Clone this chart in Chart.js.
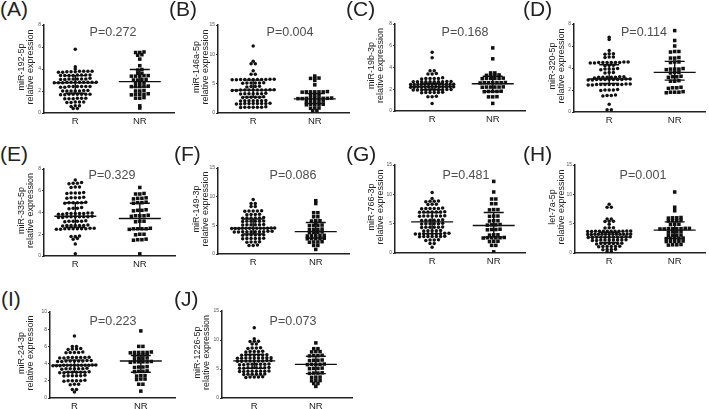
<!DOCTYPE html>
<html>
<head>
<meta charset="utf-8">
<script src="https://cdn.jsdelivr.net/npm/chart.js@4"></script>
<style>
body { margin: 0; background: #fff; }
#wrap { position: relative; width: 709px; height: 409px; overflow: hidden; background: #fff; font-family: "Liberation Sans", Arial, sans-serif; }
.lbl { position: absolute; font-size: 21px; line-height: 1; color: #222; }
canvas { position: absolute; }
</style>
</head>
<body>
<div id="wrap"></div>
<script>
// Gruplar ve panel metinleri
const groups = ['R', 'NR'];
const letters = ['(A)', '(B)', '(C)', '(D)', '(E)', '(F)', '(G)', '(H)', '(I)', '(J)'];
const mirs = ['miR-192-5p', 'miR-146a-5p', 'miR-19b-3p', 'miR-320-5p', 'miR-335-5p',
              'miR-149-3p', 'miR-766-3p', 'let-7a-5p', 'miR-24-3p', 'miR-1226-5p'];
const exprLabels = ['relative expression', 'relative expression', 'relative expression', 'relative expression',
                    'relative expression', 'relative expression', 'relative expression', 'relative expression',
                    'relative expressoin', 'relative expression'];
const pValues = ['P=0.272', 'P=0.004', 'P=0.168', 'P=0.114', 'P=0.329',
                 'P=0.086', 'P=0.481', 'P=0.001', 'P=0.223', 'P=0.073'];
const yMax = [8, 15, 8, 8, 8, 15, 15, 15, 10, 15];
const yStep = [2, 5, 2, 2, 2, 5, 5, 5, 2, 5];

// Medyan ve çeyrekler (R / NR)
const medR  = [2.75, 3.9, 2.25, 3.0, 3.65, 4.5, 5.3, 2.7, 3.8, 6.4];
const q1R   = [1.8, 2.7, 1.95, 2.6, 2.65, 3.5, 3.3, 1.8, 3.0, 5.1];
const q3R   = [3.4, 5.6, 2.55, 4.3, 4.9, 6.1, 6.9, 3.5, 4.4, 7.5];
const medNR = [2.85, 2.4, 2.5, 3.6, 3.45, 3.9, 4.7, 3.9, 4.3, 5.8];
const q1NR  = [2.35, 1.6, 1.8, 2.9, 2.45, 2.8, 2.7, 2.5, 3.0, 4.2];
const q3NR  = [3.95, 3.3, 3.2, 4.6, 4.85, 5.5, 6.9, 5.3, 4.95, 7.2];

// Tek tek noktalar
const rA = [5.8, 4.2, 4.0,
  3.8, 3.75, 3.8, 3.7, 3.75, 3.8, 3.7, 3.75, 3.8,
  3.45, 3.4, 3.45, 3.4, 3.4, 3.45, 3.4, 3.45,
  3.1, 3.05, 3.1, 3.15, 3.1, 3.1, 3.05, 3.1,
  2.8, 2.8, 2.75, 2.8, 2.8, 2.75, 2.8, 2.8, 2.8, 2.75, 2.8,
  2.4, 2.4, 2.35, 2.4, 2.4, 2.4, 2.35, 2.4,
  2.0, 2.05, 2.0, 2.0, 2.0, 2.0, 2.05,
  1.7, 1.65, 1.7, 1.7, 1.7, 1.7, 1.65, 1.7,
  1.35, 1.3, 1.35, 1.3, 1.35, 1.3,
  1.0, 0.95, 1.0, 1.0, 0.95,
  0.65, 0.6, 0.65, 0.4, 0.4];
const nrA = [5.55, 5.5, 5.5, 5.3, 5.25, 4.9, 4.3, 3.95, 3.9, 3.6, 3.6,
  3.35, 3.4, 3.35, 3.4, 3.35, 3.05, 3.0, 3.05, 3.0, 2.7, 2.7, 2.75,
  2.4, 2.45, 2.4, 2.4, 2.45, 2.05, 2.0, 2.0, 1.7, 1.7, 1.75, 1.7, 1.65,
  1.35, 1.4, 1.35, 0.65, 0.45];

const rB = [11.4, 8.8, 8.4, 8.4, 7.2, 6.6, 6.6,
  5.7, 5.75, 5.7, 5.65, 5.7, 5.7, 5.75, 5.7, 5.65, 5.7, 5.7,
  5.1, 5.1, 5.15, 5.05, 5.1, 5.1,
  4.5, 4.45, 4.5, 4.55,
  3.9, 3.9, 3.95, 3.85, 3.9, 3.9, 3.95, 3.9, 3.85, 3.9, 3.9,
  3.3, 3.3, 3.35, 3.25, 3.3, 3.3, 3.3,
  2.7, 2.75, 2.7, 2.65, 2.7, 2.7,
  2.1, 2.1, 2.15, 2.05, 2.1, 2.1, 2.1,
  1.6, 1.6, 1.55, 1.6, 1.65, 1.6, 1.6, 1.6, 1.55,
  1.0, 1.0, 0.95, 1.0, 1.05, 1.0, 1.0];
const nrB = [6.3, 5.95, 5.9, 5.95, 5.55, 4.8,
  3.6, 3.6, 3.55, 3.65, 3.6, 3.6, 3.6, 3.0, 3.0, 3.05,
  2.5, 2.5, 2.45, 2.55, 2.5, 2.5, 2.5, 2.45, 2.5,
  2.0, 2.0, 1.95, 2.05, 2.0, 1.45, 1.45, 1.4, 1.5, 1.45,
  0.85, 0.85, 0.8, 0.4, 0.4];

const rC = [5.4, 4.9, 3.7, 3.7, 3.4, 3.4, 3.45,
  3.0, 3.0, 3.05, 3.0, 2.95, 3.0,
  2.7, 2.7, 2.72, 2.7, 2.68, 2.7, 2.7, 2.72, 2.7, 2.68,
  2.45, 2.45, 2.47, 2.45, 2.43, 2.45, 2.45, 2.47, 2.45, 2.43, 2.45, 2.45, 2.47,
  2.2, 2.2, 2.22, 2.2, 2.18, 2.2, 2.2, 2.22, 2.2, 2.18, 2.2, 2.2, 2.22,
  1.95, 1.95, 1.97, 1.95, 1.93, 1.95, 1.95, 1.97, 1.95, 1.93,
  1.7, 1.7, 1.72, 1.68, 1.7, 1.7,
  1.3, 1.3, 1.35, 0.7];
const nrC = [5.8, 4.8, 3.5, 3.5, 3.3, 3.3, 3.28, 3.32,
  3.0, 3.0, 2.98, 3.02, 3.0, 3.0, 2.6, 2.6, 2.62, 2.58, 2.6, 2.6, 2.6,
  2.2, 2.2, 2.22, 2.18, 2.2, 2.2, 1.8, 1.8, 1.82, 1.78, 1.8,
  1.3, 1.3, 1.32, 0.7];

const rD = [6.8, 6.6, 5.6, 5.3, 5.3, 5.25, 5.0, 5.0, 4.95,
  4.5, 4.5, 4.55, 4.45, 4.5, 4.5, 4.5, 4.55, 4.45, 4.5,
  4.25, 4.25, 4.2, 3.9, 3.9, 3.85, 3.9, 3.95, 3.6, 3.6, 3.55,
  3.15, 3.15, 3.2, 3.1, 3.15, 3.15, 3.15, 3.2,
  2.95, 2.95, 2.9, 2.95, 3.0, 2.95, 2.95, 2.9, 2.95, 3.0, 2.95,
  2.5, 2.5, 2.45, 2.55, 2.5, 2.5, 2.5, 2.45, 2.5, 2.55, 2.5,
  2.0, 2.0, 1.95, 2.05, 2.0, 1.5, 1.5, 1.45, 1.55, 0.7, 0.2, 0.2];
const nrD = [7.4, 6.5, 6.0, 5.5, 5.5, 5.45, 4.9, 4.9, 4.95, 4.55, 4.55, 4.5,
  3.9, 3.9, 3.85, 3.95, 3.9, 3.6, 3.6, 3.55, 3.2, 3.2, 3.15, 3.25,
  2.8, 2.8, 2.85, 2.2, 2.2, 2.15, 2.25, 1.8, 1.8, 1.75, 1.85, 1.8];

const rE = [7.0, 6.7, 6.7, 6.65, 6.75, 6.35, 6.35, 6.3,
  5.8, 5.8, 5.85, 5.75, 5.8, 5.35, 5.35, 5.3, 5.4, 5.35,
  4.9, 4.9, 4.85, 4.95, 4.9, 4.9, 4.4, 4.4, 4.45, 4.35,
  3.9, 3.9, 3.95, 3.85, 3.9, 3.9, 3.9, 3.95, 3.85,
  3.6, 3.6, 3.55, 3.6, 3.65, 3.6, 3.6, 3.55, 3.6,
  3.2, 3.2, 3.15, 3.25, 3.2, 3.2,
  2.8, 2.8, 2.85, 2.75, 2.8, 2.8, 2.8,
  2.5, 2.5, 2.45, 2.55, 2.5, 2.5, 2.5, 2.45, 2.5, 2.55,
  1.8, 1.8, 1.85, 1.6, 1.55, 1.1, 0.2];
const nrE = [6.3, 5.7, 5.7, 5.75, 5.3, 5.3, 5.25, 5.35, 4.9, 4.9, 4.85, 4.95,
  4.2, 4.2, 4.25, 4.15, 3.7, 3.7, 3.65, 3.75, 3.7, 3.2, 3.2, 3.15,
  2.5, 2.5, 2.45, 2.55, 2.5, 2.5, 2.0, 2.0, 1.95, 1.5, 1.5, 1.45, 1.55, 0.2];

const rF = [9.5, 8.8, 8.8, 8.3, 8.3, 7.5, 7.5, 7.45, 7.55, 7.5,
  6.9, 6.9, 6.85, 6.95, 6.3, 6.3, 6.25, 6.35, 6.3, 6.3,
  5.7, 5.7, 5.65, 5.75, 5.7, 5.7, 5.1, 5.1, 5.05, 5.15, 5.1, 5.1,
  4.5, 4.5, 4.45, 4.55, 4.5, 4.5, 4.5, 4.45, 4.55, 4.5, 4.5, 4.5, 4.45,
  3.9, 3.9, 3.85, 3.95, 3.9, 3.9, 3.9, 3.85, 3.95, 3.9,
  3.3, 3.3, 3.25, 3.35, 3.3, 3.3, 2.7, 2.7, 2.65, 2.75, 2.7, 2.7,
  2.1, 2.1, 2.05, 2.15, 1.5, 1.5, 1.55];
const nrF = [9.3, 8.8, 7.2, 7.2, 6.5, 6.5, 5.8, 5.8, 5.75, 5.4,
  5.0, 5.0, 4.95, 5.05, 4.3, 4.3, 4.25, 4.35, 3.8, 3.8, 3.75, 3.85,
  3.2, 3.2, 3.15, 3.25, 3.2, 2.7, 2.7, 2.65, 2.75, 2.7,
  2.1, 2.1, 2.05, 2.15, 1.5, 1.5, 0.8];

const rG = [10.3, 9.3, 8.8, 8.8, 8.75, 8.85, 8.3, 8.3, 8.25,
  7.6, 7.6, 7.55, 7.65, 7.6, 7.6, 7.0, 7.0, 6.95, 7.05, 7.0, 7.0, 7.0,
  6.3, 6.3, 6.25, 6.35, 6.3, 6.3, 6.3, 5.6, 5.6, 5.55, 5.65, 5.6, 5.6,
  5.0, 5.0, 4.95, 5.05, 5.0, 5.0, 4.4, 4.4, 4.35, 4.45, 4.4, 4.4,
  3.8, 3.8, 3.75, 3.85, 3.8, 3.3, 3.3, 3.25, 3.35, 3.3, 3.3, 3.3, 3.25, 3.35,
  2.8, 2.8, 2.75, 2.85, 2.8, 2.8, 2.8, 2.2, 2.2, 2.15, 2.25, 1.6, 1.6, 1.0];
const nrG = [12.2, 10.4, 9.2, 9.2, 8.4, 8.4, 7.4, 7.4, 7.35, 6.3, 6.3, 6.25,
  5.5, 5.5, 5.45, 4.8, 4.8, 4.75, 4.85, 4.0, 4.0, 3.95, 4.05,
  3.1, 3.1, 3.05, 2.6, 2.6, 2.55, 2.65, 2.6, 2.6, 2.0, 2.0, 1.95, 1.3, 1.3, 0.2];

const rH = [8.3, 7.8, 7.8, 5.8, 5.8, 5.4, 5.4, 5.35, 4.9, 4.3, 4.3, 4.25,
  3.7, 3.7, 3.65, 3.75, 3.7, 3.7, 3.7, 3.65, 3.75, 3.7, 3.7, 3.7,
  3.2, 3.2, 3.15, 3.25, 3.2, 3.2, 3.2, 3.15, 3.25, 3.2, 3.2, 3.2, 3.2,
  2.7, 2.7, 2.65, 2.75, 2.7, 2.7, 2.7, 2.65, 2.75, 2.7, 2.7,
  2.2, 2.2, 2.15, 2.25, 2.2, 2.2, 2.2, 2.15, 2.2,
  1.6, 1.6, 1.55, 1.65, 1.6, 1.6, 1.6,
  1.1, 1.1, 1.05, 1.15, 1.1, 1.1, 0.6, 0.6, 0.55, 0.65, 0.2, 0.2];
const nrH = [10.4, 7.8, 7.2, 6.0, 6.0, 5.95, 6.05, 5.5, 5.5, 5.45, 5.55, 4.9, 4.9, 4.85,
  4.15, 4.15, 4.1, 4.2, 4.15, 4.15, 4.1, 4.2, 3.6, 3.6, 3.55, 3.65,
  3.0, 3.0, 2.95, 3.05, 2.5, 2.5, 2.45, 2.55, 2.5,
  2.0, 2.0, 1.95, 2.05, 2.0, 1.4, 1.4, 1.35, 1.45];

const rI = [7.2, 6.0, 6.0, 5.7, 5.7, 5.65, 5.75, 5.3, 5.3, 5.25, 5.35, 5.3,
  4.7, 4.7, 4.65, 4.75, 4.7, 4.7, 4.7, 4.65,
  4.3, 4.3, 4.25, 4.35, 4.3, 4.3, 4.3, 4.25, 4.35,
  3.8, 3.8, 3.75, 3.85, 3.8, 3.8, 3.8, 3.75, 3.85, 3.8, 3.8, 3.8, 3.75,
  3.4, 3.4, 3.35, 3.45, 3.4, 3.4, 3.4,
  3.0, 3.0, 2.95, 3.05, 3.0, 3.0, 3.0, 2.95,
  2.6, 2.6, 2.55, 2.65, 2.6, 2.6, 2.0, 2.0, 1.95, 2.05, 2.0, 2.0,
  1.6, 1.6, 1.55, 1.0, 1.0, 0.7];
const nrI = [7.8, 6.0, 6.0, 5.3, 5.3, 5.25, 5.35, 5.3, 5.3, 5.0, 5.0, 4.95, 5.05,
  4.6, 4.6, 4.55, 4.65, 4.2, 4.2, 4.15, 4.25, 4.2, 4.2,
  3.6, 3.6, 3.55, 3.65, 3.1, 3.1, 3.05, 3.15, 2.6, 2.6, 2.55,
  2.2, 2.2, 2.15, 1.6, 1.6, 0.8];

const rJ = [12.1, 10.2, 9.8, 9.8, 9.75, 9.3, 9.3, 8.6, 8.6, 8.55, 8.65,
  8.0, 8.0, 7.95, 8.05, 8.0, 7.4, 7.4, 7.35, 7.45, 7.4, 7.4, 7.4,
  6.9, 6.9, 6.85, 6.95, 6.9, 6.9, 6.9, 6.85, 6.95,
  6.4, 6.4, 6.35, 6.45, 6.4, 6.4, 6.4, 6.35, 6.45,
  5.8, 5.8, 5.75, 5.85, 5.8, 5.8, 5.8, 5.75,
  5.2, 5.2, 5.15, 5.25, 5.2, 5.2, 5.2, 5.15,
  4.6, 4.6, 4.55, 4.65, 4.6, 4.6, 4.6, 4.55,
  4.1, 4.1, 4.05, 4.15, 4.1, 4.1, 3.6, 3.6, 3.55, 3.65, 3.6];
const nrJ = [9.5, 8.5, 8.5, 8.0, 8.0, 7.95, 7.3, 7.3, 7.25, 7.35,
  6.5, 6.5, 6.45, 6.55, 5.8, 5.8, 5.75, 5.85, 5.8, 5.1, 5.1, 5.05, 5.15,
  4.3, 4.3, 4.25, 4.35, 3.6, 3.6, 3.55, 3.0, 3.0, 2.95, 2.5, 2.5, 2.0];

const rData = [rA, rB, rC, rD, rE, rF, rG, rH, rI, rJ];
const nrData = [nrA, nrB, nrC, nrD, nrE, nrF, nrG, nrH, nrI, nrJ];

// Panel yerleşimi (piksel)
const boxes = [
  { cl: 0,   rt: 0,   ax: 44,  top: 25,  bot: 113, right: 177, rx: 76,  nrx: 142, tx: 22,  px: 113, py: 33,  lx: 0,   ly: -2 },
  { cl: 175, rt: 0,   ax: 218, top: 25,  bot: 113, right: 352, rx: 254, nrx: 317, tx: 197, px: 290, py: 33,  lx: 169, ly: -2 },
  { cl: 350, rt: 0,   ax: 395, top: 24,  bot: 111, right: 528, rx: 433, nrx: 495, tx: 372, px: 465, py: 33,  lx: 346, ly: -2 },
  { cl: 525, rt: 0,   ax: 574, top: 24,  bot: 112, right: 708, rx: 610, nrx: 677, tx: 553, px: 644, py: 33,  lx: 523, ly: -2 },
  { cl: 0,   rt: 140, ax: 44,  top: 169, bot: 256, right: 178, rx: 76,  nrx: 142, tx: 22,  px: 112, py: 176, lx: 0,   ly: 142.5 },
  { cl: 175, rt: 140, ax: 218, top: 168, bot: 254, right: 352, rx: 254, nrx: 318, tx: 197, px: 293, py: 176, lx: 174, ly: 142.5 },
  { cl: 350, rt: 140, ax: 395, top: 165, bot: 253, right: 528, rx: 433, nrx: 496, tx: 372, px: 466, py: 176, lx: 346, ly: 142.5 },
  { cl: 525, rt: 140, ax: 575, top: 165, bot: 253, right: 708, rx: 610, nrx: 677, tx: 553, px: 643, py: 176, lx: 523, ly: 142.5 },
  { cl: 0,   rt: 280, ax: 50,  top: 312, bot: 398, right: 178, rx: 75,  nrx: 143, tx: 22,  px: 113, py: 322, lx: 1,   ly: 287.5 },
  { cl: 175, rt: 280, ax: 222, top: 311, bot: 398, right: 355, rx: 255, nrx: 318, tx: 198, px: 293, py: 322, lx: 174, ly: 287.5 }
];

// Noktaları satırlara dizip yatayda yay (beeswarm benzeri), çok dolu satırları sıkıştır
function swarm(vals, center, xPx, yPx) {
  const sorted = vals.slice().sort((a, b) => a - b);
  const rows = [];
  sorted.forEach(v => {
    const r = rows[rows.length - 1];
    if (r && (v - r[0]) * yPx < 1.8) r.push(v);
    else rows.push([v]);
  });
  const pts = [];
  rows.forEach(r => {
    const gap = r.length > 1 ? Math.min(4.3, 44 / (r.length - 1)) : 0;
    r.forEach((v, k) => {
      pts.push({ x: center + (k - (r.length - 1) / 2) * gap / xPx, y: v });
    });
  });
  return pts;
}

// Medyan çizgisi, çeyrek çubukları, grup adları, P değeri ve y başlığı
const deco = {
  id: 'deco',
  afterDatasetsDraw(chart, args, opts) {
    const i = opts.i;
    const b = boxes[i];
    const ctx = chart.ctx;
    const xs = chart.scales.x, ys = chart.scales.y;
    const stats = [[medR[i], q1R[i], q3R[i]], [medNR[i], q1NR[i], q3NR[i]]];
    ctx.save();
    ctx.strokeStyle = '#111';
    ctx.lineWidth = 1.4;
    stats.forEach((s, g) => {
      const cx = xs.getPixelForValue(g + 1);
      const m = ys.getPixelForValue(s[0]);
      const lo = ys.getPixelForValue(s[1]);
      const hi = ys.getPixelForValue(s[2]);
      ctx.beginPath();
      ctx.moveTo(cx - 21, m); ctx.lineTo(cx + 21, m);
      ctx.moveTo(cx, lo); ctx.lineTo(cx, hi);
      ctx.moveTo(cx - 10, lo); ctx.lineTo(cx + 10, lo);
      ctx.moveTo(cx - 10, hi); ctx.lineTo(cx + 10, hi);
      ctx.stroke();
    });

    ctx.textAlign = 'center';
    ctx.textBaseline = 'middle';

    // x ekseni grup adları
    ctx.fillStyle = '#222';
    ctx.font = '9.5px "Liberation Sans", Arial, sans-serif';
    groups.forEach((g, k) => {
      ctx.fillText(g, xs.getPixelForValue(k + 1), chart.chartArea.bottom + 8);
    });

    ctx.fillStyle = '#4d4d4d';
    ctx.font = '12.5px "Liberation Sans", Arial, sans-serif';
    ctx.fillText(pValues[i], b.px - b.cl, b.py - b.rt);

    ctx.fillStyle = '#222';
    ctx.font = '9px "Liberation Sans", Arial, sans-serif';
    const cy = (chart.chartArea.top + chart.chartArea.bottom) / 2 - 2;
    [mirs[i], exprLabels[i]].forEach((t, k) => {
      ctx.save();
      ctx.translate(b.tx - b.cl + k * 8.5, cy);
      ctx.rotate(-Math.PI / 2);
      ctx.fillText(t, 0, 0);
      ctx.restore();
    });
    ctx.restore();
  }
};

const wrap = document.getElementById('wrap');

boxes.forEach((b, i) => {
  const lab = document.createElement('div');
  lab.className = 'lbl';
  lab.textContent = letters[i];
  lab.style.left = b.lx + 'px';
  lab.style.top = b.ly + 'px';
  wrap.appendChild(lab);

  const cv = document.createElement('canvas');
  const W = b.right - b.cl + 1;
  const H = b.bot - b.rt + 16;
  cv.width = W;
  cv.height = H;
  cv.style.left = b.cl + 'px';
  cv.style.top = b.rt + 'px';
  wrap.appendChild(cv);

  const unit = b.nrx - b.rx;
  const xMin = 1 - (b.rx - b.ax) / unit;
  const xMax = 2 + (b.right - b.nrx) / unit;
  const yPx = (b.bot - b.top) / yMax[i];

  new Chart(cv, {
    type: 'scatter',
    data: {
      datasets: [
        { data: swarm(rData[i], 1, unit, yPx), pointStyle: 'circle', pointRadius: 1.75,
          backgroundColor: '#111', borderWidth: 0 },
        { data: swarm(nrData[i], 2, unit, yPx), pointStyle: 'rect', pointRadius: 2.5,
          backgroundColor: '#111', borderWidth: 0 }
      ]
    },
    options: {
      responsive: false,
      animation: false,
      events: [],
      layout: { padding: { top: b.top - b.rt, right: 1, left: 0, bottom: 0 } },
      plugins: { legend: { display: false }, tooltip: { enabled: false }, deco: { i: i } },
      scales: {
        x: {
          type: 'linear', min: xMin, max: xMax,
          afterFit(s) { s.height = 16; },
          ticks: { display: false },
          grid: { display: false },
          border: { color: '#222', width: 1.5 }
        },
        y: {
          min: 0, max: yMax[i],
          afterFit(s) { s.width = b.ax - b.cl; },
          ticks: { stepSize: yStep[i], font: { size: 5, family: '"Liberation Sans", Arial' },
                   color: '#555', padding: 1 },
          grid: { drawOnChartArea: false, tickLength: 2, color: '#333' },
          border: { color: '#222', width: 1.5 }
        }
      }
    },
    plugins: [deco]
  });
});
</script>
</body>
</html>
